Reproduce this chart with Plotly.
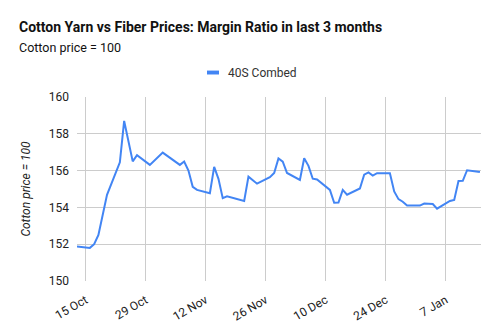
import plotly.graph_objects as go

# Daily margin ratio of 40S combed yarn over cotton (cotton price = 100)
dates = [
    "2017-10-13", "2017-10-16", "2017-10-17", "2017-10-18", "2017-10-20",
    "2017-10-23", "2017-10-24", "2017-10-25", "2017-10-26", "2017-10-27",
    "2017-10-30", "2017-11-02", "2017-11-06", "2017-11-07", "2017-11-08",
    "2017-11-09", "2017-11-10", "2017-11-13", "2017-11-14", "2017-11-15",
    "2017-11-16", "2017-11-17", "2017-11-21", "2017-11-22", "2017-11-24",
    "2017-11-27", "2017-11-28", "2017-11-29", "2017-11-30", "2017-12-01",
    "2017-12-04", "2017-12-05", "2017-12-06", "2017-12-07", "2017-12-08",
    "2017-12-11", "2017-12-12", "2017-12-13", "2017-12-14", "2017-12-15",
    "2017-12-18", "2017-12-19", "2017-12-20", "2017-12-21", "2017-12-22",
    "2017-12-25", "2017-12-26", "2017-12-27", "2017-12-28", "2017-12-29",
    "2018-01-01", "2018-01-02", "2018-01-04", "2018-01-05", "2018-01-08",
    "2018-01-09", "2018-01-10", "2018-01-11", "2018-01-12", "2018-01-15",
]
combed_40s = [
    151.88, 151.80, 152.00, 152.50, 154.68,
    156.45, 158.70, 157.60, 156.50, 156.84,
    156.31, 156.98, 156.31, 156.49, 156.00,
    155.12, 154.95, 154.77, 156.20, 155.55,
    154.50, 154.60, 154.35, 155.67, 155.29,
    155.64, 155.87, 156.66, 156.49, 155.87,
    155.49, 156.67, 156.26, 155.56, 155.52,
    154.95, 154.25, 154.26, 154.95, 154.69,
    155.03, 155.78, 155.90, 155.73, 155.86,
    155.86, 154.87, 154.45, 154.31, 154.10,
    154.10, 154.21, 154.18, 153.93, 154.35,
    154.41, 155.43, 155.44, 156.02, 155.92,
]

series_name = "40S Combed"
title_text = "Cotton Yarn vs Fiber Prices: Margin Ratio in last 3 months"
subtitle_text = "Cotton price = 100"
y_title = "Cotton price = 100"
tick_dates = ["2017-10-15", "2017-10-29", "2017-11-12", "2017-11-26",
              "2017-12-10", "2017-12-24", "2018-01-07"]
tick_labels = ["15 Oct", "29 Oct", "12 Nov", "26 Nov", "10 Dec", "24 Dec", "7 Jan"]
y_ticks = [150, 152, 154, 156, 158, 160]

FONT = "Roboto, Arial, sans-serif"
BLUE = "#4285F4"
GRID = "#cccccc"
TEXT = "#222222"

# plot area geometry in pixels (used to place header text in paper units)
W, H = 497, 336
ML, MR, MT, MB = 77, 16, 97, 51
PW, PH = W - ML - MR, H - MT - MB


def px_x(px):
    return (px - ML) / PW


def px_y(py):
    return 1 + (MT - py) / PH


fig = go.Figure()
fig.add_trace(go.Scatter(
    x=dates, y=combed_40s, mode="lines", name=series_name,
    line=dict(color=BLUE, width=2), showlegend=False,
))

fig.update_layout(
    width=W, height=H,
    margin=dict(l=ML, r=MR, t=MT, b=MB),
    paper_bgcolor="white", plot_bgcolor="white",
    font=dict(family=FONT, size=12, color=TEXT),
    xaxis=dict(
        type="date",
        range=["2017-10-13", "2018-01-15 06:00"],
        tickvals=tick_dates, ticktext=tick_labels,
        tickangle=-30, showgrid=True, gridcolor=GRID, gridwidth=1,
        showline=False, zeroline=False, ticks="",
        ticklabelstandoff=9,
        tickfont=dict(size=12, color=TEXT),
    ),
    yaxis=dict(
        range=[150, 160], tickvals=y_ticks,
        showgrid=True, gridcolor=GRID, gridwidth=1,
        zeroline=False, showline=False, ticks="",
        ticklabelstandoff=7,
        tickfont=dict(size=12, color=TEXT),
        title=dict(text="<i>" + y_title + "</i>", font=dict(size=12, color=TEXT),
                   standoff=15),
    ),
)

# header: title and subtitle
fig.add_annotation(
    text="<b>" + title_text + "</b>", xref="paper", yref="paper",
    x=px_x(17), y=px_y(25), xanchor="left", yanchor="middle",
    showarrow=False, font=dict(size=14, color="#111111", family=FONT),
)
fig.add_annotation(
    text=subtitle_text, xref="paper", yref="paper",
    x=px_x(17), y=px_y(46), xanchor="left", yanchor="middle",
    showarrow=False, font=dict(size=12.5, color="#111111", family=FONT),
)

# legend: short colour swatch followed by the series name
fig.add_shape(
    type="rect", xref="paper", yref="paper",
    x0=px_x(207), x1=px_x(219), y0=px_y(70), y1=px_y(74),
    fillcolor=BLUE, line=dict(width=0),
)
fig.add_annotation(
    text=series_name, xref="paper", yref="paper",
    x=px_x(226), y=px_y(72), xanchor="left", yanchor="middle",
    showarrow=False, font=dict(size=12, color="#333333", family=FONT),
)

fig.write_html("out.html")
